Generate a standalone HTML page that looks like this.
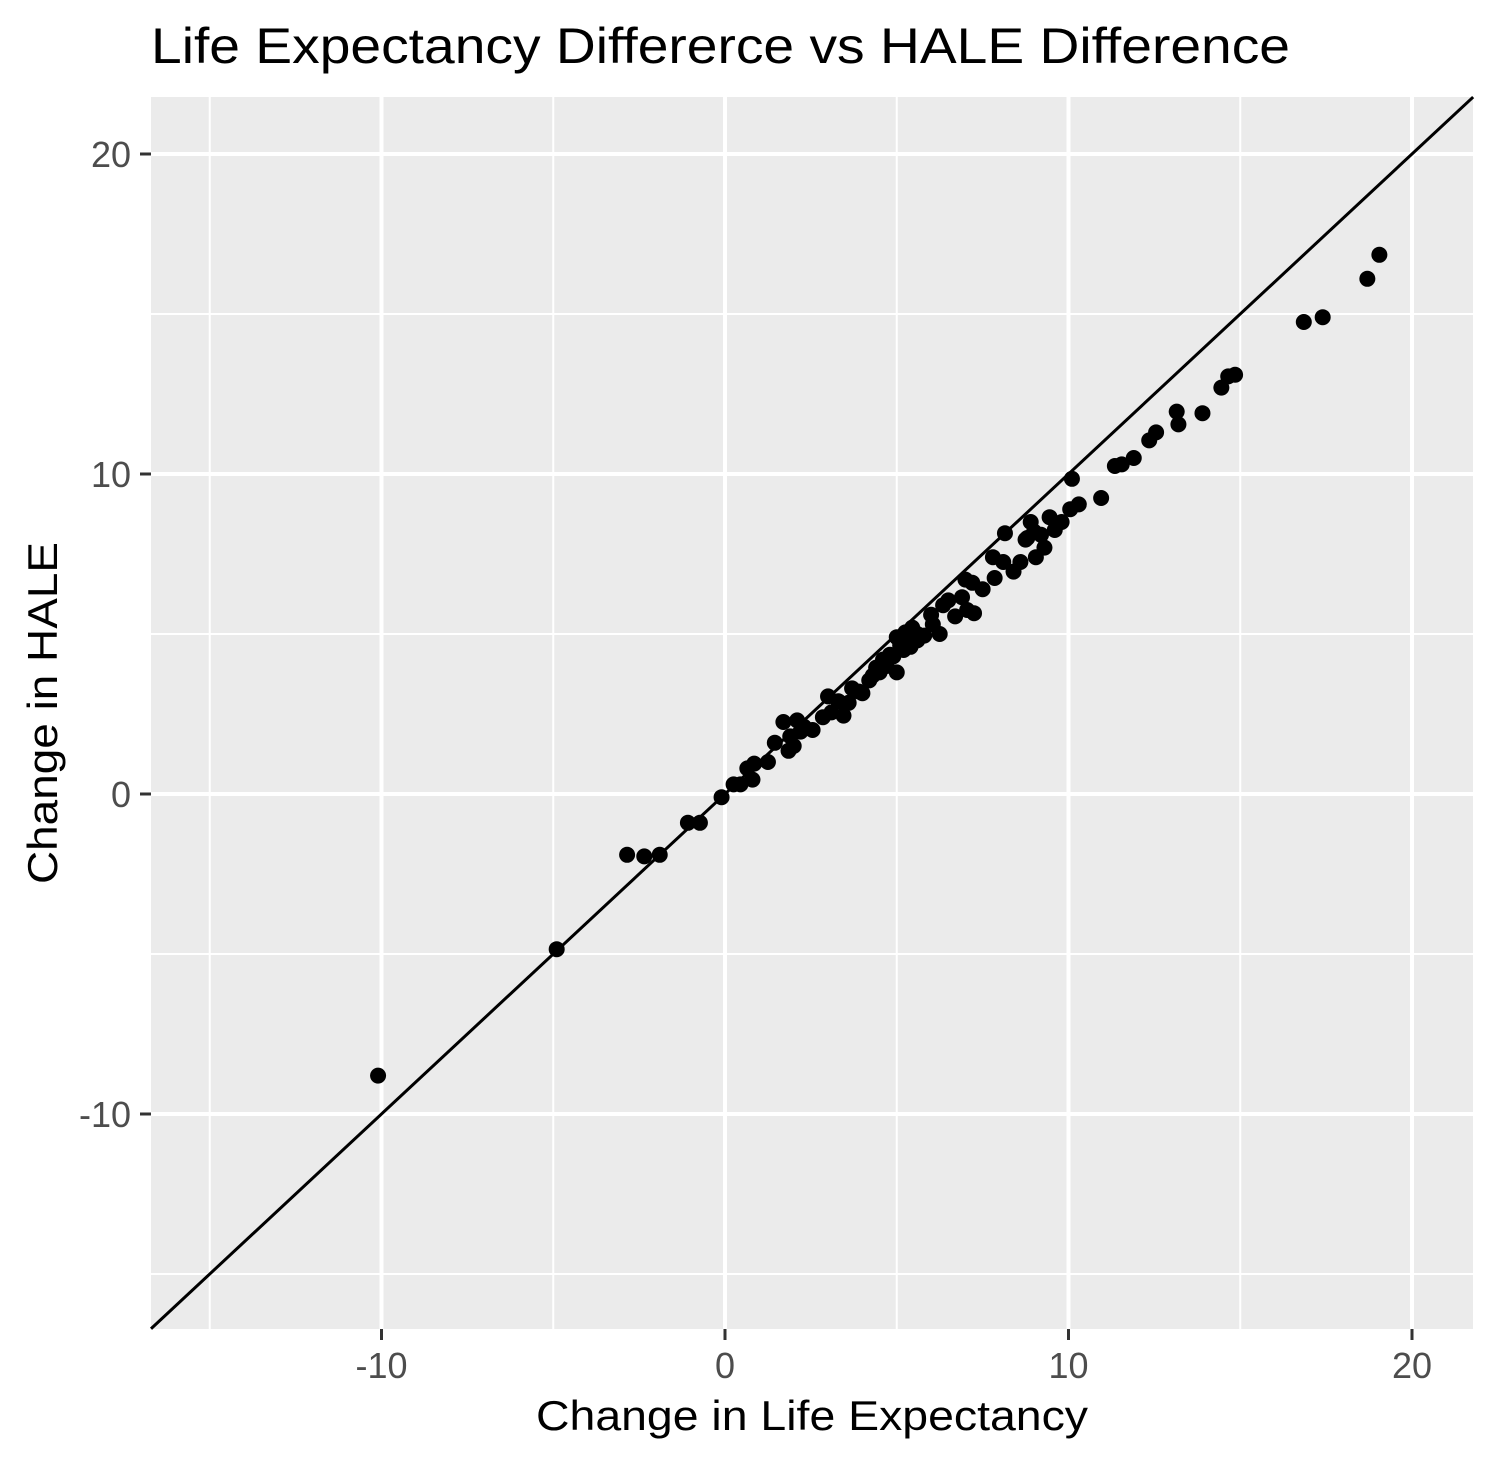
<!DOCTYPE html>
<html><head><meta charset="utf-8"><style>body{margin:0;background:#fff}svg{display:block}</style></head>
<body>
<svg id="chart" width="1496" height="1462" xmlns="http://www.w3.org/2000/svg" font-family="Liberation Sans, Arial, sans-serif">
<rect width="1496" height="1462" fill="#fff"/>
<text x="151" y="63" font-size="50" textLength="1139" lengthAdjust="spacingAndGlyphs" fill="#000">Life Expectancy Differerce vs HALE Difference</text>
<rect x="151" y="97" width="1322" height="1232" fill="#ebebeb"/>
<g id="grid"></g><g id="diag"></g><g id="pts"></g><g id="axes"></g>
<text x="812" y="1430" font-size="42" text-anchor="middle" textLength="552" lengthAdjust="spacingAndGlyphs" fill="#000">Change in Life Expectancy</text>
<text transform="translate(57,713) rotate(-90)" font-size="42" text-anchor="middle" textLength="342" lengthAdjust="spacingAndGlyphs" fill="#000">Change in HALE</text>
</svg>
<script>
const xTicks=[-10,0,10,20];
const yTicks=[-10,0,10,20];
const xMinor=[-15,-5,5,15];
const yMinor=[-15,-5,5,15];
const xVals=[-10.1,-4.9,-2.85,-2.35,-1.9,-1.08,-0.73,-0.1,0.25,0.45,0.65,0.85,0.8,1.25,1.45,1.7,2.1,1.85,2.0,2.2,2.55,2.85,3.0,3.1,3.45,3.6,3.9,4.0,4.2,4.4,4.6,4.8,5.0,5.1,5.25,5.45,5.6,5.8,6.05,6.25,6.35,6.5,6.7,6.9,7.05,7.2,7.25,7.5,7.8,7.85,8.1,8.15,8.4,8.6,8.75,8.9,9.05,9.2,9.3,9.45,9.6,9.8,10.05,10.1,10.3,10.95,11.35,11.55,11.9,12.35,12.55,13.15,13.2,13.9,14.45,14.65,14.85,16.85,17.4,18.7,19.05,4.5,4.7,4.9,5.2,5.4,5.0,3.3,3.7,2.3,1.9,5.6,6.0,4.3,7.0,8.8,9.0];
const yVals=[-8.8,-4.85,-1.9,-1.95,-1.9,-0.9,-0.9,-0.1,0.3,0.3,0.8,0.95,0.45,1.0,1.6,2.25,2.3,1.35,1.5,1.95,2.0,2.4,3.05,2.55,2.45,2.85,3.2,3.15,3.55,3.95,4.2,4.35,3.8,4.65,5.05,5.2,4.8,4.95,5.3,5.0,5.9,6.05,5.55,6.15,5.75,6.6,5.65,6.4,7.4,6.75,7.25,8.15,6.95,7.25,7.95,8.5,7.4,8.1,7.7,8.65,8.25,8.5,8.9,9.85,9.05,9.25,10.25,10.3,10.5,11.05,11.3,11.95,11.55,11.9,12.7,13.05,13.1,14.75,14.9,16.1,16.85,3.8,4.0,4.3,4.5,4.6,4.9,2.9,3.3,2.1,1.8,5.0,5.6,3.7,6.7,8.0,8.2];
const X=v=>725+v*34.35, Y=v=>794-v*32;
const ns='http://www.w3.org/2000/svg';
function mk(t,p,a){const e=document.createElementNS(ns,t);for(const k in a)e.setAttribute(k,a[k]);p.appendChild(e);return e;}
const g=document.getElementById('grid'),ax=document.getElementById('axes');
xMinor.forEach(v=>{const e=mk('line',g,{x1:X(v),x2:X(v),y1:97,y2:1329,stroke:'#fff','stroke-width':2});

});
yMinor.forEach(v=>{const e=mk('line',g,{x1:151,x2:1473,y1:Y(v),y2:Y(v),stroke:'#fff','stroke-width':2});

});
xTicks.forEach(v=>{const e=mk('line',g,{x1:X(v),x2:X(v),y1:97,y2:1329,stroke:'#fff','stroke-width':4});


const t=mk('line',ax,{x1:X(v),x2:X(v),y1:1329,y2:1340,stroke:'#333','stroke-width':3});


const l=mk('text',ax,{x:X(v),y:1378,'font-size':36,'text-anchor':'middle',fill:'#4d4d4d'});l.textContent=v;

});
yTicks.forEach(v=>{const e=mk('line',g,{x1:151,x2:1473,y1:Y(v),y2:Y(v),stroke:'#fff','stroke-width':4});


const t=mk('line',ax,{x1:140,x2:151,y1:Y(v),y2:Y(v),stroke:'#333','stroke-width':3});


const l=mk('text',ax,{x:131,y:Y(v)+13,'font-size':36,'text-anchor':'end',fill:'#4d4d4d'});l.textContent=v;

});
const d=mk('line',document.getElementById('diag'),{x1:X(-16.71),y1:Y(-16.71),x2:X(21.78),y2:Y(21.78),stroke:'#000','stroke-width':3});


const pg=document.getElementById('pts');
xVals.forEach((v,i)=>{const c=mk('circle',pg,{cx:X(v),cy:Y(yVals[i]),r:8,fill:'#000'});

});
</script>
</body></html>
